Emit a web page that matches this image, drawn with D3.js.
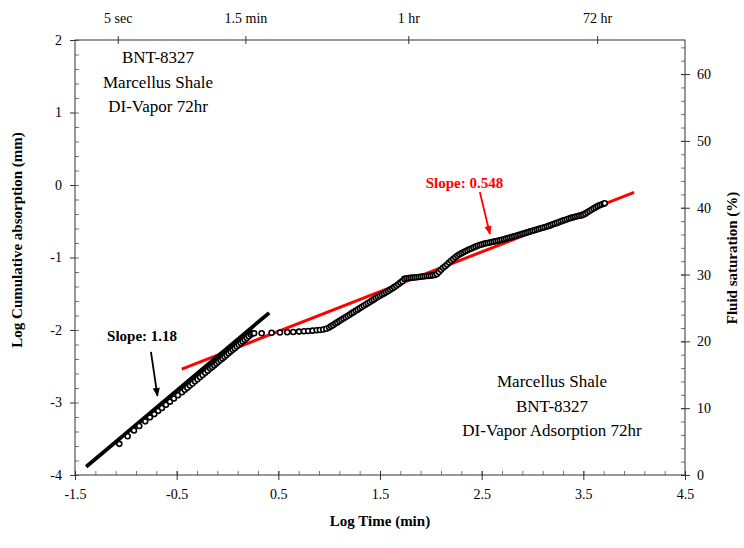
<!DOCTYPE html>
<html>
<head>
<meta charset="utf-8">
<script src="https://cdn.jsdelivr.net/npm/d3@7"></script>
<style>
  html, body { margin: 0; padding: 0; background: #fff; }
  svg text { font-family: "Liberation Serif", "Times New Roman", serif; fill: #000; }
</style>
</head>
<body>
<svg id="chart" width="744" height="548"></svg>
<script>
// ---- Measured imbibition curve: log10 time (min) vs log10 cumulative absorption (mm) ----
const logTime = [
  // early imbibition
  -1.064, -0.982, -0.920, -0.868, -0.809, -0.763, -0.720, -0.681, -0.645, -0.605,
  -0.566, -0.527, -0.487, -0.448,
  -0.420, -0.395, -0.370, -0.345, -0.320, -0.295, -0.270, -0.245, -0.220, -0.195,
  -0.170, -0.150, -0.130, -0.110, -0.090, -0.070, -0.050, -0.030, -0.010, 0.010,
  0.030, 0.050, 0.070, 0.090, 0.110, 0.130, 0.150, 0.170, 0.190, 0.210,
  0.230, 0.245,
  // plateau
  0.262, 0.336, 0.434, 0.516, 0.588, 0.647, 0.703, 0.752, 0.794, 0.837,
  0.877, 0.909, 0.942, 0.972, 1.000,
  // second rise
  1.02, 1.04, 1.06, 1.08, 1.10, 1.12, 1.14, 1.16, 1.18, 1.20,
  1.22, 1.24, 1.26, 1.28, 1.30, 1.32, 1.34, 1.36, 1.38, 1.40,
  1.42, 1.44, 1.46, 1.48, 1.50, 1.52, 1.54, 1.56, 1.58, 1.60,
  1.62, 1.64, 1.66, 1.68, 1.70, 1.72, 1.74,
  // short flat step
  1.76, 1.78, 1.80, 1.82, 1.84, 1.86, 1.88, 1.90, 1.92, 1.94,
  1.96, 1.98, 2.00, 2.02, 2.04, 2.06,
  // late imbibition
  2.08, 2.10, 2.12, 2.14, 2.16, 2.18, 2.20, 2.22, 2.24, 2.26,
  2.28, 2.30, 2.32, 2.34, 2.36, 2.38, 2.40, 2.42, 2.44, 2.46,
  2.48, 2.50, 2.52, 2.54, 2.56, 2.58, 2.60, 2.62, 2.64, 2.66,
  2.68, 2.70, 2.72, 2.74, 2.76, 2.78, 2.80, 2.82, 2.84, 2.86,
  2.88, 2.90, 2.92, 2.94, 2.96, 2.98, 3.00, 3.02, 3.04, 3.06,
  3.08, 3.10, 3.12, 3.14, 3.16, 3.18, 3.20, 3.22, 3.24, 3.26,
  3.28, 3.30, 3.32, 3.34, 3.36, 3.38, 3.40, 3.42, 3.44, 3.46,
  3.48, 3.50, 3.52, 3.54, 3.56, 3.58, 3.60, 3.62, 3.64, 3.66,
  3.68, 3.70, 3.711
];
const logAbsorption = [
  -3.570, -3.465, -3.385, -3.325, -3.260, -3.205, -3.160, -3.115, -3.075, -3.030,
  -2.988, -2.944, -2.900, -2.858,
  -2.825, -2.796, -2.767, -2.737, -2.708, -2.679, -2.649, -2.620, -2.591, -2.561,
  -2.532, -2.509, -2.485, -2.462, -2.438, -2.415, -2.392, -2.368, -2.345, -2.321,
  -2.298, -2.274, -2.251, -2.227, -2.204, -2.181, -2.157, -2.134, -2.110, -2.087,
  -2.063, -2.046,
  -2.045, -2.044, -2.038, -2.035, -2.031, -2.027, -2.022, -2.018, -2.014, -2.009,
  -2.004, -2.000, -1.993, -1.982, -1.965,
  -1.947, -1.930, -1.912, -1.895, -1.877, -1.859, -1.842, -1.824, -1.807, -1.789,
  -1.771, -1.754, -1.736, -1.719, -1.701, -1.683, -1.666, -1.648, -1.631, -1.613,
  -1.595, -1.578, -1.560, -1.543, -1.527, -1.511, -1.495, -1.479, -1.463, -1.446,
  -1.428, -1.409, -1.389, -1.368, -1.347, -1.326, -1.295,
  -1.287, -1.284, -1.281, -1.278, -1.275, -1.272, -1.268, -1.265, -1.262, -1.259,
  -1.256, -1.253, -1.250, -1.246, -1.240, -1.228,
  -1.200, -1.170, -1.142, -1.120, -1.097, -1.070, -1.045, -1.020, -0.997, -0.976,
  -0.958, -0.942, -0.928, -0.914, -0.900, -0.887, -0.875, -0.862, -0.850, -0.838,
  -0.828, -0.820, -0.812, -0.805, -0.799, -0.793, -0.787, -0.781, -0.775, -0.769,
  -0.763, -0.756, -0.748, -0.740, -0.732, -0.724, -0.716, -0.708, -0.699, -0.691,
  -0.682, -0.674, -0.666, -0.657, -0.649, -0.640, -0.632, -0.624, -0.615, -0.607,
  -0.598, -0.590, -0.582, -0.574, -0.564, -0.554, -0.543, -0.533, -0.523, -0.513,
  -0.502, -0.492, -0.482, -0.472, -0.462, -0.454, -0.446, -0.438, -0.430, -0.425,
  -0.420, -0.412, -0.395, -0.377, -0.359, -0.342, -0.325, -0.309, -0.292, -0.280,
  -0.269, -0.258, -0.252
];

// ---- Fitted trend lines (log-log slope, intercept at log t = 0, log t extent) ----
const earlySlope = 1.18, earlyIntercept = -2.247, earlyExtent = [-1.39, 0.41];
const lateSlope = 0.548, lateIntercept = -2.2925, lateExtent = [-0.45, 4.0];

// ---- Axes ----
const xTickValues = [-1.5, -0.5, 0.5, 1.5, 2.5, 3.5, 4.5];
const yTickValues = [-4, -3, -2, -1, 0, 1, 2];
const saturationTicks = [0, 10, 20, 30, 40, 50, 60];
const timeTickLabels = ["5 sec", "1.5 min", "1 hr", "72 hr"];
const timeTickMinutes = [5 / 60, 1.5, 60, 4320];

(function draw() {
  if (logTime.length !== logAbsorption.length) throw new Error("series length mismatch");

  const svg = d3.select("#chart");
  const plotLeft = 75, plotRight = 685, plotTop = 40, plotBottom = 475;

  const x = d3.scaleLinear().domain([-1.5, 4.5]).range([plotLeft, plotRight]);
  const y = d3.scaleLinear().domain([-4, 2]).range([plotBottom, plotTop]);
  const ySat = d3.scaleLinear().domain([0, 65.1]).range([plotBottom, plotTop]);

  const axisColor = "#333";

  function styleAxis(g) {
    g.select(".domain").remove();
    g.selectAll(".tick line").attr("stroke", axisColor).attr("stroke-width", 1);
    g.selectAll(".tick text").attr("font-size", 14)
      .attr("font-family", "Liberation Serif, serif").attr("fill", "#000");
  }

  // minor ticks (inside the frame)
  svg.append("g").attr("transform", `translate(0,${plotBottom})`)
    .call(d3.axisTop(x).tickValues(d3.range(-1.5, 4.51, 0.2)).tickSize(4).tickFormat(""))
    .call(styleAxis).selectAll(".tick line").attr("stroke", "#777");
  svg.append("g").attr("transform", `translate(${plotLeft},0)`)
    .call(d3.axisRight(y).tickValues(d3.range(-4, 2.01, 0.2)).tickSize(4).tickFormat(""))
    .call(styleAxis).selectAll(".tick line").attr("stroke", "#777");
  svg.append("g").attr("transform", `translate(${plotRight},0)`)
    .call(d3.axisLeft(ySat).tickValues(d3.range(0, 65, 2)).tickSize(4).tickFormat(""))
    .call(styleAxis).selectAll(".tick line").attr("stroke", "#777");

  // major ticks with labels
  const gx = svg.append("g").attr("transform", `translate(0,${plotBottom})`)
    .call(d3.axisBottom(x).tickValues(xTickValues).tickSize(5).tickPadding(9).tickFormat(d => String(d)))
    .call(styleAxis);
  gx.selectAll(".tick line").attr("y1", -4);

  svg.append("g").attr("transform", `translate(${plotLeft},0)`)
    .call(d3.axisLeft(y).tickValues(yTickValues).tickSize(5).tickPadding(8).tickFormat(d => String(d)))
    .call(styleAxis);

  const gr = svg.append("g").attr("transform", `translate(${plotRight},0)`)
    .call(d3.axisRight(ySat).tickValues(saturationTicks).tickSize(5).tickPadding(7).tickFormat(d => String(d)))
    .call(styleAxis);
  gr.selectAll(".tick line").attr("x1", -4);

  const gt = svg.append("g").attr("transform", `translate(0,${plotTop})`)
    .call(d3.axisTop(x).tickValues(timeTickMinutes.map(m => Math.log10(m))).tickSize(4).tickPadding(13)
      .tickFormat((d, i) => timeTickLabels[i]))
    .call(styleAxis);
  gt.selectAll(".tick line").attr("y1", 4);

  // plot frame
  svg.append("rect")
    .attr("x", plotLeft).attr("y", plotTop)
    .attr("width", plotRight - plotLeft).attr("height", plotBottom - plotTop)
    .attr("fill", "none").attr("stroke", axisColor).attr("stroke-width", 1);

  // axis titles
  svg.append("text").attr("x", (plotLeft + plotRight) / 2).attr("y", 526)
    .attr("text-anchor", "middle").attr("font-size", 15).attr("font-weight", "bold")
    .text("Log Time (min)");
  svg.append("text").attr("transform", "translate(22,240) rotate(-90)")
    .attr("text-anchor", "middle").attr("font-size", 15).attr("font-weight", "bold")
    .text("Log Cumulative absorption (mm)");
  svg.append("text").attr("transform", "translate(737,258) rotate(-90)")
    .attr("text-anchor", "middle").attr("font-size", 15).attr("font-weight", "bold")
    .text("Fluid saturation (%)");

  // trend lines
  const trend = d3.line().x(d => x(d[0])).y(d => y(d[1]));
  svg.append("path")
    .datum(lateExtent.map(t => [t, lateSlope * t + lateIntercept]))
    .attr("d", trend).attr("stroke", "#ff0000").attr("stroke-width", 3).attr("fill", "none");
  svg.append("path")
    .datum(earlyExtent.map(t => [t, earlySlope * t + earlyIntercept]))
    .attr("d", trend).attr("stroke", "#000").attr("stroke-width", 3.8).attr("fill", "none");

  // measured points
  svg.append("g").selectAll("circle")
    .data(logTime.map((t, i) => [t, logAbsorption[i]]))
    .join("circle")
    .attr("cx", d => x(d[0])).attr("cy", d => y(d[1])).attr("r", 2.5)
    .attr("fill", "#fff").attr("stroke", "#000").attr("stroke-width", 1.6);

  // annotation arrows
  const defs = svg.append("defs");
  [["arrowBlack", "#000"], ["arrowRed", "#ff0000"]].forEach(([id, c]) => {
    defs.append("marker").attr("id", id).attr("viewBox", "0 0 10 10")
      .attr("refX", 9).attr("refY", 5).attr("markerWidth", 5).attr("markerHeight", 5)
      .attr("markerUnits", "strokeWidth").attr("orient", "auto")
      .append("path").attr("d", "M0,1 L10,5 L0,9 Z").attr("fill", c);
  });
  svg.append("line")
    .attr("x1", x(-0.753)).attr("y1", y(-2.303)).attr("x2", x(-0.689)).attr("y2", y(-2.91))
    .attr("stroke", "#000").attr("stroke-width", 1.8).attr("marker-end", "url(#arrowBlack)");
  svg.append("line")
    .attr("x1", x(2.482)).attr("y1", y(-0.097)).attr("x2", x(2.581)).attr("y2", y(-0.676))
    .attr("stroke", "#ff0000").attr("stroke-width", 1.8).attr("marker-end", "url(#arrowRed)");

  svg.append("text").attr("x", x(-0.84)).attr("y", y(-2.152))
    .attr("text-anchor", "middle").attr("font-size", 15).attr("font-weight", "bold")
    .text("Slope: " + earlySlope.toFixed(2));
  svg.append("text").attr("x", x(2.33)).attr("y", y(-0.041))
    .attr("text-anchor", "middle").attr("font-size", 15).attr("font-weight", "bold")
    .style("fill", "#ff0000")
    .text("Slope: " + lateSlope.toFixed(3));

  // sample descriptions
  const noteA = ["BNT-8327", "Marcellus Shale", "DI-Vapor 72hr"];
  const noteB = ["Marcellus Shale", "BNT-8327", "DI-Vapor Adsorption 72hr"];
  noteA.forEach((s, i) => svg.append("text").attr("x", 158).attr("y", 63 + i * 24.5)
    .attr("text-anchor", "middle").attr("font-size", 17).text(s));
  noteB.forEach((s, i) => svg.append("text").attr("x", 552).attr("y", 387 + i * 24.5)
    .attr("text-anchor", "middle").attr("font-size", 17).text(s));
})();
</script>
</body>
</html>
